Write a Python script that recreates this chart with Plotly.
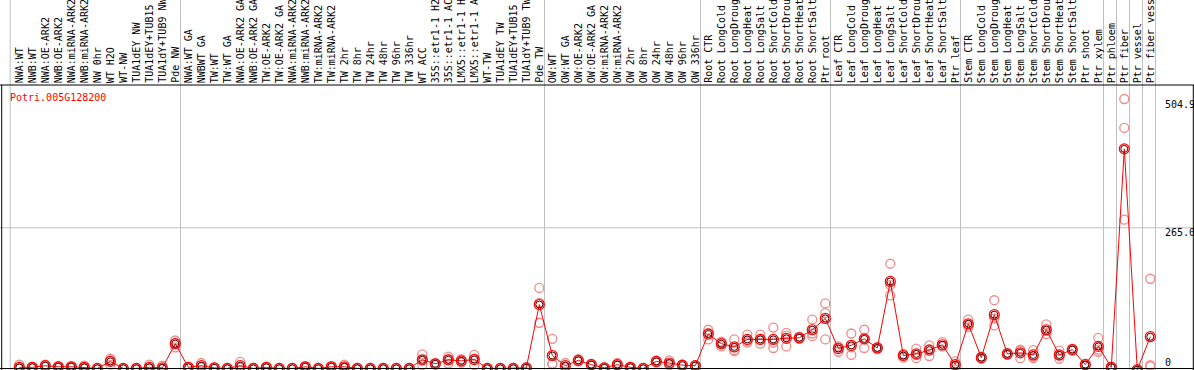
import plotly.graph_objects as go

gene = "Potri.005G128200"

labels = [
    # NW group
    "NWA:WT", "NWB:WT", "NWA:OE-ARK2", "NWB:OE-ARK2", "NWA:miRNA-ARK2", "NWB:miRNA-ARK2",
    "NW 0hr", "WT H2O", "WT-NW", "TUA1dEY NW", "TUA1dEY+TUB15 NW", "TUA1dY+TUB9 NW", "Pde NW",
    # TW group
    "NWA:WT GA", "NWBWT GA", "TW:WT", "TW:WT GA", "NWA:OE-ARK2 GA", "NWB:OE-ARK2 GA",
    "TW:OE-ARK2", "TW:OE-ARK2 GA", "NWA:miRNA-ARK2 GA", "NWB:miRNA-ARK2 GA", "TW:miRNA-ARK2",
    "TW:miRNA-ARK2 GA", "TW 2hr", "TW 8hr", "TW 24hr", "TW 48hr", "TW 96hr", "TW 336hr", "WT ACC",
    "35S::etr1-1 H2O", "35S::etr1-1 ACC", "LMX5::etr1-1 H2O", "LMX5::etr1-1 ACC", "WT-TW",
    "TUA1dEY TW", "TUA1dEY+TUB15 TW", "TUA1dY+TUB9 TW", "Pde TW",
    # OW group
    "OW:WT", "OW:WT GA", "OW:OE-ARK2", "OW:OE-ARK2 GA", "OW:miRNA-ARK2", "OW:miRNA-ARK2 GA",
    "OW 2hr", "OW 8hr", "OW 24hr", "OW 48hr", "OW 96hr", "OW 336hr",
    # Root
    "Root CTR", "Root LongCold", "Root LongDrought", "Root LongHeat", "Root LongSalt",
    "Root ShortCold", "Root ShortDrought", "Root ShortHeat", "Root ShortSalt", "Ptr root",
    # Leaf
    "Leaf CTR", "Leaf LongCold", "Leaf LongDrought", "Leaf LongHeat", "Leaf LongSalt",
    "Leaf ShortCold", "Leaf ShortDrought", "Leaf ShortHeat", "Leaf ShortSalt", "Ptr leaf",
    # Stem
    "Stem CTR", "Stem LongCold", "Stem LongDrought", "Stem LongHeat", "Stem LongSalt",
    "Stem ShortCold", "Stem ShortDrought", "Stem ShortHeat", "Stem ShortSalt", "Ptr shoot", "Ptr xylem",
    # single tissues
    "Ptr phloem", "Ptr fiber", "Ptr vessel", "Ptr fiber vessel",
]

group_sizes = [13, 28, 12, 10, 10, 11, 1, 1, 1, 1]

mean_vals = [
    5, 5, 8, 6, 6, 5, 3, 16, 3, 3, 5, 4, 49,
    5, 8, 4, 3, 8, 3, 5, 3, 3, 6, 3, 6, 6, 3, 3, 3, 3, 3, 19, 11.5, 19, 17, 19.5, 3, 3, 3, 4, 122,
    27, 8, 18, 10, 4, 10, 5, 3, 16, 13, 9, 8,
    67, 49, 43, 57, 57, 57, 59, 60, 75, 96,
    40, 46, 58, 41, 165, 27, 30, 37, 47, 10,
    86, 23, 103, 30, 32, 28, 75, 28, 38, 10, 44,
    5, 412, 0.5, 62,
]

rep1 = [
    10, 6, 10, 7, 7, 8, 3, 21, 3, 3, 10, 8, 55,
    6, 13, 5, 3, 15, 3, 6, 3, 3, 7, 3, 7, 10, 3, 3, 3, 3, 3, 29, 13, 25, 20, 28, 3, 3, 3, 5, 153,
    58, 13, 20, 12, 5, 13, 6, 3, 18, 18, 10, 9,
    75, 53, 57, 66, 66, 79, 69, 62, 94, 124,
    44, 68, 75, 43, 198, 23, 40, 46, 52, 16,
    94, 25, 130, 32, 22, 37, 85, 36, 40, 12, 60,
    6, 504.9, 1, 170,
]

rep2 = [
    3, 4, 7, 5, 5, 4, 3, 10, 2, 2, 3, 2, 42,
    4, 6, 3, 2, 5, 2, 4, 2, 2, 5, 2, 5, 4, 2, 2, 2, 2, 2, 9, 10, 12, 14, 9, 2, 2, 2, 3, 88,
    12, 6, 16, 8, 3, 8, 4, 2, 14, 9, 8, 7,
    57, 44, 35, 51, 49, 41, 44, 58, 63, 106,
    34, 28, 41, 39, 139, 30, 22, 26, 44, 7,
    80, 21, 83, 28, 36, 22, 67, 21, 36, 8, 34,
    4, 451, 0, 7,
]

rep3 = [
    2, 5, 7, 6, 6, 3, 3, 17, 4, 4, 2, 2, 50,
    5, 5, 4, 4, 4, 4, 5, 4, 4, 6, 4, 6, 4, 4, 4, 4, 4, 4, 19, 11, 20, 17, 21, 4, 4, 4, 4, 125,
    11, 5, 18, 10, 4, 9, 5, 4, 16, 12, 9, 8,
    69, 50, 37, 54, 56, 51, 64, 60, 68, 57,
    42, 42, 58, 41, 158, 28, 28, 39, 45, 7,
    84, 23, 96, 30, 38, 25, 73, 27, 38, 10, 38,
    5, 280, 0.5, 9,
]

axis_labels = ["504.9", "265.0", "0"]
axis_label_vals = [504.9, 265.0, 0]

W, H = 1194, 370
TOP = 85
x0px, step = 19.3, 13.0
xs = list(range(len(labels)))

fig = go.Figure()

# replicate points
rx, ry = [], []
for r in (rep1, rep2, rep3):
    rx += xs
    ry += r
fig.add_trace(go.Scatter(
    x=rx, y=ry, mode="markers",
    marker=dict(symbol="circle-open", size=9, color="rgb(238,140,140)", line=dict(width=1.3)),
    hoverinfo="skip", showlegend=False,
))

# mean line
fig.add_trace(go.Scatter(
    x=xs, y=mean_vals, mode="lines+markers",
    line=dict(color="red", width=1),
    marker=dict(symbol="circle-open", size=10, color="red", line=dict(width=1.2)),
    showlegend=False,
))
fig.add_trace(go.Scatter(
    x=xs, y=mean_vals, mode="markers",
    marker=dict(symbol="circle-open", size=7, color="rgb(60,0,0)", line=dict(width=1)),
    showlegend=False, hoverinfo="skip",
))

shapes = []
# group separator lines
bounds = [-0.7]
acc = 0
for g in group_sizes:
    acc += g
    bounds.append(acc - 1 + 0.4)
for b in bounds:
    shapes.append(dict(type="line", xref="x", yref="paper", x0=b, x1=b, y0=-0.01, y1=1.35,
                       line=dict(color="#c0c0c0", width=1), layer="below"))
# gridline at 265
shapes.append(dict(type="line", xref="paper", yref="y", x0=0, x1=1, y0=265, y1=265,
                   line=dict(color="#c0c0c0", width=1), layer="below"))
# frame
blk = dict(color="black", width=1)
shapes.append(dict(type="line", xref="paper", yref="paper", x0=0, x1=1, y0=1, y1=1, line=blk))
shapes.append(dict(type="line", xref="paper", yref="paper", x0=0, x1=1, y0=1.5 / (H - TOP), y1=1.5 / (H - TOP), line=blk))
shapes.append(dict(type="line", xref="paper", yref="paper", x0=1.7 / W, x1=1.7 / W, y0=0, y1=1, line=blk))
shapes.append(dict(type="line", xref="paper", yref="paper", x0=1193.3 / W, x1=1193.3 / W, y0=0, y1=1, line=blk))

mono = "DejaVu Sans Mono"
annotations = []
for i, lab in enumerate(labels):
    annotations.append(dict(
        x=i, y=1, xref="x", yref="paper", text=lab, textangle=-90,
        xanchor="center", yanchor="bottom", showarrow=False,
        font=dict(family=mono, size=10, color="black"), borderpad=0, yshift=1,
    ))
annotations.append(dict(
    x=8 / W, y=1 - 12.7 / (H - TOP), xref="paper", yref="paper", text=gene,
    xanchor="left", yanchor="middle", showarrow=False,
    font=dict(family=mono, size=10, color="red"),
))
shifts = [-5.5, -4.4, 8]
for t, v, s in zip(axis_labels, axis_label_vals, shifts):
    annotations.append(dict(
        x=1163 / W, y=v, xref="paper", yref="y", text=t, xanchor="left", yanchor="middle",
        showarrow=False, yshift=s, font=dict(family=mono, size=10, color="black"),
    ))

fig.update_layout(
    width=W, height=H,
    margin=dict(l=0, r=0, t=TOP, b=0),
    paper_bgcolor="white", plot_bgcolor="white",
    xaxis=dict(range=[(0 - x0px) / step, (W - x0px) / step], visible=False, fixedrange=True),
    yaxis=dict(range=[0, 531], visible=False, fixedrange=True),
    shapes=shapes, annotations=annotations,
    showlegend=False,
)

fig.write_html(
    "out.html",
    config={"displayModeBar": False},
    post_script="document.body.style.margin='0';document.body.style.padding='0';",
)
